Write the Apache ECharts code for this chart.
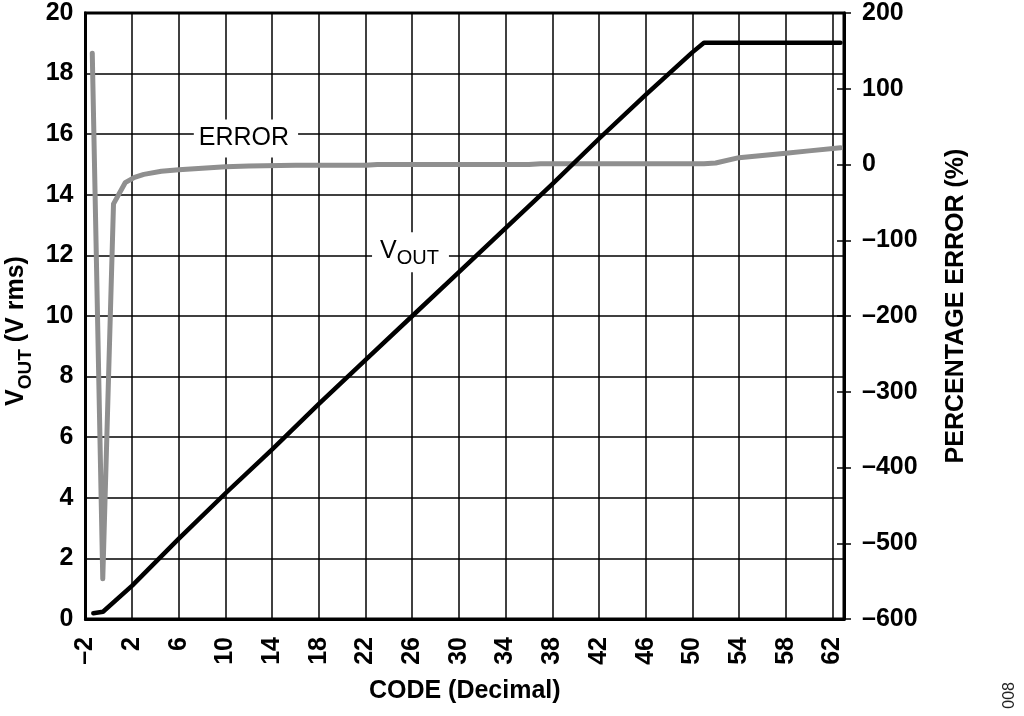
<!DOCTYPE html>
<html>
<head>
<meta charset="utf-8">
<script src="https://cdn.jsdelivr.net/npm/echarts@6/dist/echarts.min.js"></script>
<style>html,body{margin:0;padding:0;background:#fff}#c{width:1024px;height:716px}</style>
</head>
<body>
<div id="c"></div>
<script>
// X axis (code) settings
const xMin = -2, xMax = 63, xStep = 4;
// Left axis: VOUT (V rms)
const vMin = 0, vMax = 20, vStep = 2;
// Right axis: percentage error
const eMin = -600, eMax = 200, eStep = 100;

// VOUT series
const voutCodes = [-1.33, -0.5, 2, 6, 10, 14, 18, 22, 26, 30, 34, 38, 42, 46, 50, 51, 62.7];
const voutValues = [0.19, 0.24, 1.1, 2.65, 4.15, 5.6, 7.1, 8.55, 10.0, 11.45, 12.9, 14.35, 15.85, 17.3, 18.7, 19.02, 19.02];

// Percentage error series
const errCodes = [-1.42, -0.52, 0.4, 1.4, 2.2, 3, 4.5, 6, 8, 10, 12, 16, 22, 23, 36, 37, 51, 52, 54, 56, 58, 60, 62.7];
const errValues = [147, -547, -52, -24, -17, -13, -9, -7, -5, -3, -2, -1, -1, 0, 0, 1, 1, 2, 9, 12, 15, 18, 22];

const FONT = 'Liberation Sans, Arial, Helvetica, sans-serif';
const FS = 25;
const fmt = v => String(v).replace('-', '\u2013');

const chart = echarts.init(document.getElementById('c'), null, {renderer: 'canvas'});
chart.setOption({
  animation: false,
  backgroundColor: '#fff',
  grid: {left: 85.5, right: 180, top: 13, bottom: 97, outerBoundsMode: 'none', containLabel: false,
    show: true, borderColor: '#000', borderWidth: 3, backgroundColor: 'transparent'},
  xAxis: {
    type: 'value', min: xMin, max: xMax, interval: xStep,
    name: 'CODE (Decimal)', nameLocation: 'middle', nameGap: 60,
    nameTextStyle: {fontFamily: FONT, fontWeight: 'bold', fontSize: FS, color: '#000'},
    axisLine: {show: true, onZero: false, lineStyle: {color: '#000', width: 3}},
    axisTick: {show: false},
    axisLabel: {rotate: 90, margin: 18, showMaxLabel: false, formatter: fmt,
      fontFamily: FONT, fontWeight: 'bold', fontSize: FS, color: '#000'},
    splitLine: {show: true, lineStyle: {color: '#000', width: 1.5}}
  },
  yAxis: [
    {
      type: 'value', min: vMin, max: vMax, interval: vStep, position: 'left',
      name: '{v|V}{s|OUT}{v| (V rms)}', nameLocation: 'middle', nameGap: 48,
      nameTextStyle: {padding: [0, 30, 0, 0], rich: {
        v: {fontFamily: FONT, fontWeight: 'bold', fontSize: FS, color: '#000', lineHeight: 31, verticalAlign: 'top'},
        s: {fontFamily: FONT, fontWeight: 'bold', fontSize: 19, color: '#000', lineHeight: 19, verticalAlign: 'bottom'}
      }},
      axisLine: {show: true, onZero: false, lineStyle: {color: '#000', width: 3}},
      axisTick: {show: false},
      axisLabel: {margin: 12, fontFamily: FONT, fontWeight: 'bold', fontSize: FS, color: '#000'},
      splitLine: {show: true, lineStyle: {color: '#000', width: 1.5}}
    },
    {
      type: 'value', min: eMin, max: eMax, interval: eStep, position: 'right',
      name: 'PERCENTAGE ERROR (%)', nameLocation: 'middle', nameGap: 100, nameRotate: 90,
      nameTextStyle: {fontFamily: FONT, fontWeight: 'bold', fontSize: FS, color: '#000', padding: [0, 0, 0, 20]},
      axisLine: {show: true, onZero: false, lineStyle: {color: '#000', width: 3}},
      axisTick: {show: true, length: 7, lineStyle: {color: '#000', width: 1.5}},
      axisLabel: {margin: 18, formatter: fmt, fontFamily: FONT, fontWeight: 'bold', fontSize: FS, color: '#000'},
      splitLine: {show: false}
    },
    {
      type: 'value', min: eMin, max: eMax, interval: eStep, position: 'right',
      axisLine: {show: false, onZero: false},
      axisTick: {show: true, inside: true, length: 7, lineStyle: {color: '#000', width: 1.5}},
      axisLabel: {show: false},
      splitLine: {show: false}
    }
  ],
  series: [
    {
      name: 'VOUT', type: 'line', xAxisIndex: 0, yAxisIndex: 0, showSymbol: false, symbol: 'none',
      data: voutCodes.map((c, i) => [c, voutValues[i]]),
      lineStyle: {color: '#000', width: 4.5, cap: 'round', join: 'round'},
      z: 5,
      markPoint: {
        symbol: 'circle', symbolSize: 1, itemStyle: {color: 'rgba(0,0,0,0)'},
        data: [{coord: [25.85, 12.1], value: 'VOUT'}],
        label: {show: true, position: 'inside', formatter: '{v|V}{s|OUT}', backgroundColor: '#fff', padding: [6, 10, 4, 8],
          rich: {
            v: {fontFamily: FONT, fontSize: 25, color: '#000', lineHeight: 30, verticalAlign: 'top'},
            s: {fontFamily: FONT, fontSize: 20, color: '#000', lineHeight: 20, verticalAlign: 'bottom'}
          }}
      }
    },
    {
      name: 'ERROR', type: 'line', xAxisIndex: 0, yAxisIndex: 1, showSymbol: false, symbol: 'none',
      data: errCodes.map((c, i) => [c, errValues[i]]),
      lineStyle: {color: '#8f8f8f', width: 5, cap: 'round', join: 'round'},
      z: 4,
      markPoint: {
        symbol: 'circle', symbolSize: 1, itemStyle: {color: 'rgba(0,0,0,0)'},
        data: [{coord: [11.75, 34.3], value: 'ERROR'}],
        label: {show: true, position: 'inside', formatter: 'ERROR', backgroundColor: '#fff', padding: [8, 9, 8, 5],
          fontFamily: FONT, fontSize: 25, color: '#000', lineHeight: 22}
      }
    }
  ],
  graphic: [
    {type: 'text', left: 1002, top: 682, rotation: Math.PI / 2,
      style: {text: '008', fontFamily: FONT, fontSize: 16, fill: '#222'}}
  ]
});
</script>
</body>
</html>
